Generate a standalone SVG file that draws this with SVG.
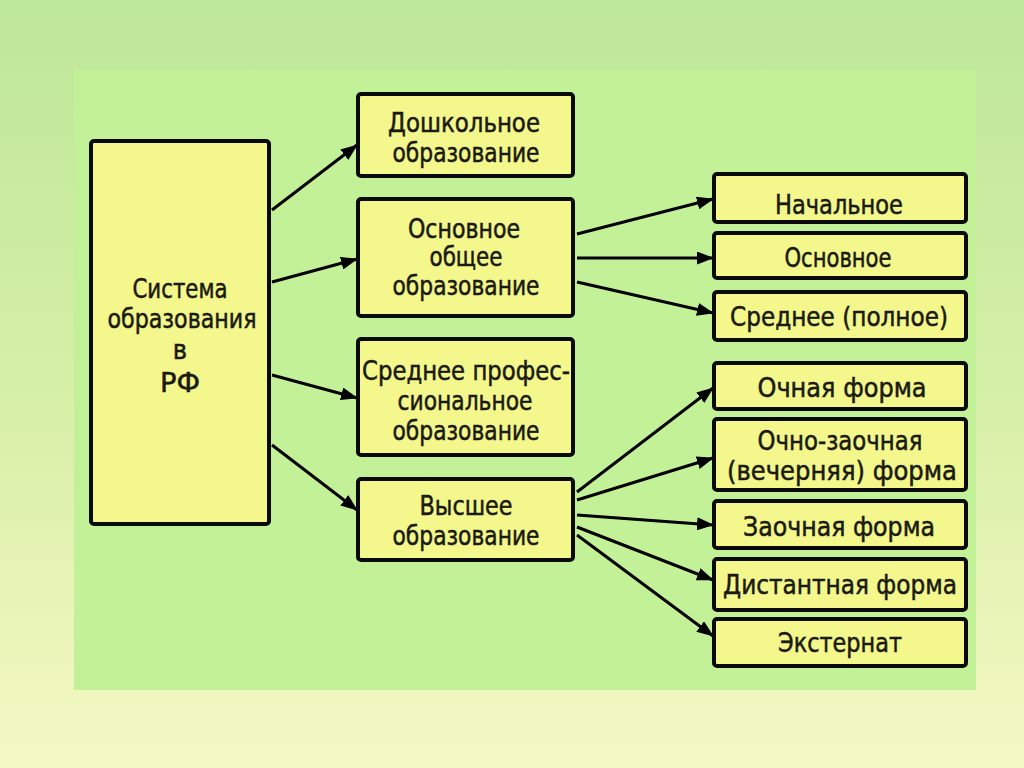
<svg xmlns="http://www.w3.org/2000/svg" width="1024" height="768" viewBox="0 0 1024 768">
<defs>
<linearGradient id="bg" x1="0" y1="0" x2="0" y2="1">
<stop offset="0" stop-color="#bde799"/>
<stop offset="0.5" stop-color="#d6efa6"/>
<stop offset="1" stop-color="#f5f8c4"/>
</linearGradient>
<marker id="ah" markerWidth="17" markerHeight="13" refX="16" refY="6.5" orient="auto" markerUnits="userSpaceOnUse">
<path d="M0,0 L17,6.5 L0,13 Z" fill="#000"/>
</marker>
<style>
.box{fill:#f4f88c;stroke:#0a0a0a;stroke-width:4}
.t{font-family:"DejaVu Sans Condensed","Liberation Sans Narrow","DejaVu Sans",sans-serif;font-stretch:condensed;fill:#1a1a10;stroke:#1a1a10;stroke-width:0.5;text-anchor:middle;font-size:27px}
.c{stroke:#000;stroke-width:3;fill:none;marker-end:url(#ah)}
</style>
</defs>
<rect x="0" y="0" width="1024" height="768" fill="url(#bg)"/>
<rect x="74" y="70" width="902" height="620" fill="#c3f197"/>

<g id="connectors">
<line class="c" x1="272" y1="210" x2="357" y2="145"/>
<line class="c" x1="272" y1="282" x2="357" y2="259"/>
<line class="c" x1="272" y1="375" x2="357" y2="398"/>
<line class="c" x1="272" y1="445" x2="357" y2="510"/>
<line class="c" x1="577" y1="234" x2="713" y2="199"/>
<line class="c" x1="577" y1="258" x2="713" y2="258"/>
<line class="c" x1="577" y1="282" x2="713" y2="313"/>
<line class="c" x1="577" y1="492" x2="713" y2="388"/>
<line class="c" x1="577" y1="500" x2="713" y2="458"/>
<line class="c" x1="577" y1="515" x2="713" y2="525"/>
<line class="c" x1="577" y1="527" x2="713" y2="580"/>
<line class="c" x1="577" y1="535" x2="713" y2="636"/>
</g>

<g id="node-system">
<rect class="box" x="91" y="141" width="178" height="383" rx="3"/>
<text class="t" x="180" y="298" font-size="29" textLength="95" lengthAdjust="spacingAndGlyphs">Система</text>
<text class="t" x="182" y="328" font-size="29" textLength="149" lengthAdjust="spacingAndGlyphs">образования</text>
<text class="t" x="180" y="359" font-size="28">в</text>
<text class="t" x="180" y="392" font-size="34" textLength="40" lengthAdjust="spacingAndGlyphs">РФ</text>
</g>

<g id="node-preschool">
<rect class="box" x="358" y="94" width="215" height="82" rx="3"/>
<text class="t" x="464" y="132" textLength="152" lengthAdjust="spacingAndGlyphs">Дошкольное</text>
<text class="t" x="466" y="162" textLength="147" lengthAdjust="spacingAndGlyphs">образование</text>
</g>

<g id="node-general">
<rect class="box" x="358" y="199" width="215" height="117" rx="3"/>
<text class="t" x="464" y="238" textLength="112" lengthAdjust="spacingAndGlyphs">Основное</text>
<text class="t" x="466" y="266" textLength="73" lengthAdjust="spacingAndGlyphs">общее</text>
<text class="t" x="466" y="295" textLength="147" lengthAdjust="spacingAndGlyphs">образование</text>
</g>

<g id="node-secondary-prof">
<rect class="box" x="358" y="339" width="215" height="116" rx="3"/>
<text class="t" x="466" y="380" textLength="208" lengthAdjust="spacingAndGlyphs">Среднее профес-</text>
<text class="t" x="465" y="410" textLength="135" lengthAdjust="spacingAndGlyphs">сиональное</text>
<text class="t" x="466" y="440" textLength="147" lengthAdjust="spacingAndGlyphs">образование</text>
</g>

<g id="node-higher">
<rect class="box" x="358" y="479" width="215" height="81" rx="3"/>
<text class="t" x="466" y="515" textLength="93" lengthAdjust="spacingAndGlyphs">Высшее</text>
<text class="t" x="466" y="545" textLength="147" lengthAdjust="spacingAndGlyphs">образование</text>
</g>

<g id="node-primary">
<rect class="box" x="714" y="174" width="252" height="48" rx="3"/>
<text class="t" x="839" y="214" textLength="128" lengthAdjust="spacingAndGlyphs">Начальное</text>
</g>

<g id="node-basic">
<rect class="box" x="714" y="233" width="252" height="45" rx="3"/>
<text class="t" x="838" y="267" textLength="107" lengthAdjust="spacingAndGlyphs">Основное</text>
</g>

<g id="node-complete">
<rect class="box" x="714" y="292" width="252" height="48" rx="3"/>
<text class="t" x="839" y="326" textLength="218" lengthAdjust="spacingAndGlyphs">Среднее (полное)</text>
</g>

<g id="node-fulltime">
<rect class="box" x="714" y="363" width="252" height="46" rx="3"/>
<text class="t" x="842" y="397" textLength="169" lengthAdjust="spacingAndGlyphs">Очная форма</text>
</g>

<g id="node-evening">
<rect class="box" x="714" y="419" width="252" height="71" rx="3"/>
<text class="t" x="840" y="450" textLength="165" lengthAdjust="spacingAndGlyphs">Очно-заочная</text>
<text class="t" x="842" y="480" textLength="230" lengthAdjust="spacingAndGlyphs">(вечерняя) форма</text>
</g>

<g id="node-extramural">
<rect class="box" x="714" y="501" width="252" height="47" rx="3"/>
<text class="t" x="839" y="536" textLength="192" lengthAdjust="spacingAndGlyphs">Заочная форма</text>
</g>

<g id="node-distance">
<rect class="box" x="714" y="559" width="252" height="51" rx="3"/>
<text class="t" x="840" y="594" textLength="234" lengthAdjust="spacingAndGlyphs">Дистантная форма</text>
</g>

<g id="node-external">
<rect class="box" x="714" y="619" width="252" height="47" rx="3"/>
<text class="t" x="840" y="652" textLength="124" lengthAdjust="spacingAndGlyphs">Экстернат</text>
</g>
</svg>
